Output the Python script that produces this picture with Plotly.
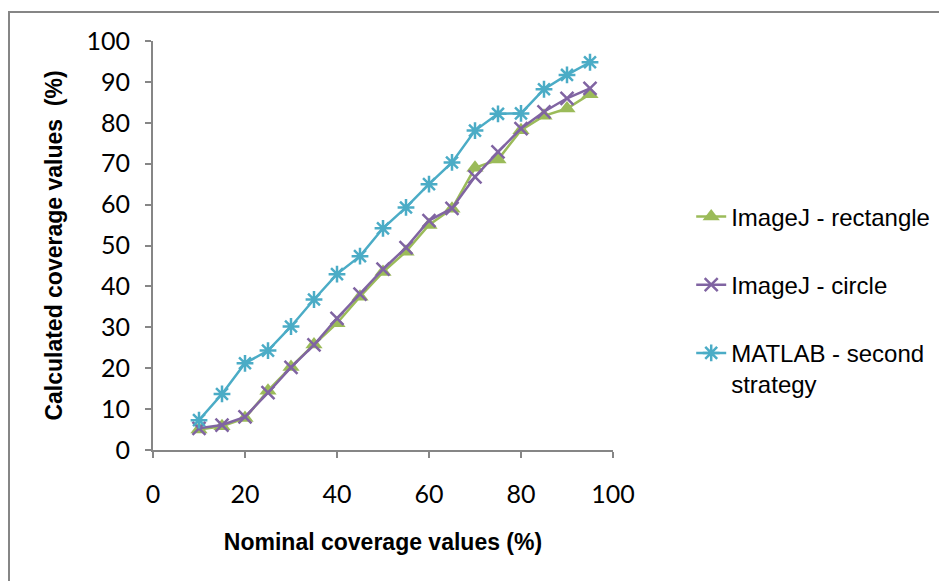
import plotly.graph_objects as go

# nominal coverage (%)
nominal = [10, 15, 20, 25, 30, 35, 40, 45, 50, 55, 60, 65, 70, 75, 80, 85, 90, 95]

# calculated coverage (%)
imagej_rectangle = [5.0, 5.8, 7.8, 14.5, 20.3, 25.8, 31.0, 37.5, 43.5, 48.5,
                    55.0, 59.0, 69.0, 71.0, 78.2, 81.7, 83.5, 87.0]
imagej_circle = [5.3, 6.1, 8.1, 14.0, 20.2, 25.7, 32.2, 38.1, 44.2, 49.5,
                 56.1, 59.1, 66.8, 72.9, 78.6, 82.7, 86.0, 88.4]
matlab_second = [7.3, 13.7, 21.2, 24.3, 30.2, 36.8, 43.0, 47.4, 54.2, 59.3,
                 65.0, 70.3, 78.1, 82.2, 82.3, 88.2, 91.7, 94.8]

series_names = ["ImageJ - rectangle", "ImageJ - circle", "MATLAB - second<br>strategy"]

AXIS_GREY = "#868686"
TEXT_FONT = "Liberation Sans, Arial, sans-serif"
TICK_FONT = "Lato, Open Sans, sans-serif"

fig = go.Figure()
fig.add_trace(go.Scatter(
    x=nominal, y=imagej_rectangle, name=series_names[0],
    mode="lines+markers", legendgroup="a",
    line={"color": "#9BBB59", "width": 2.5},
    marker={"symbol": "triangle-up", "size": 15, "color": "#9BBB59"},
))
fig.add_trace(go.Scatter(
    x=nominal, y=imagej_circle, name=series_names[1],
    mode="lines+markers", legendgroup="b",
    line={"color": "#8064A2", "width": 2.5},
    marker={"symbol": "x-thin-open", "size": 13,
            "line": {"color": "#8064A2", "width": 2.5}},
))
fig.add_trace(go.Scatter(
    x=nominal, y=matlab_second, name=series_names[2],
    mode="lines+markers", legendgroup="c",
    line={"color": "#4BACC6", "width": 2.5},
    marker={"symbol": "asterisk-open", "size": 14,
            "line": {"color": "#4BACC6", "width": 2.5}},
))

fig.update_layout(
    width=947,
    height=581,
    paper_bgcolor="white",
    plot_bgcolor="white",
    margin={"l": 145, "r": 342, "t": 33, "b": 139},
    xaxis={
        "range": [0, 100],
        "tickvals": [0, 20, 40, 60, 80, 100],
        "showgrid": False,
        "zeroline": False,
        "showline": True,
        "linecolor": AXIS_GREY,
        "linewidth": 2,
        "ticks": "outside",
        "ticklen": 6,
        "tickwidth": 2,
        "tickcolor": AXIS_GREY,
        "ticklabelstandoff": 15,
        "tickfont": {"family": TICK_FONT, "size": 25, "color": "black"},
        "title": {"text": "<b>Nominal coverage values (%)</b>", "standoff": 27,
                  "font": {"family": TEXT_FONT, "size": 23, "color": "black"}},
    },
    yaxis={
        "range": [0, 100],
        "dtick": 10,
        "showgrid": False,
        "zeroline": False,
        "showline": True,
        "linecolor": AXIS_GREY,
        "linewidth": 2,
        "ticks": "outside",
        "ticklen": 6,
        "tickwidth": 2,
        "tickcolor": AXIS_GREY,
        "ticklabelstandoff": 10,
        "tickfont": {"family": TICK_FONT, "size": 25, "color": "black"},
        "title": {"text": "<b>Calculated coverage values  (%)</b>", "standoff": 17,
                  "font": {"family": TEXT_FONT, "size": 23, "color": "black"}},
    },
    legend={
        "x": 1.17, "xanchor": "left",
        "y": 0.625, "yanchor": "top",
        "traceorder": "grouped",
        "tracegroupgap": 34,
        "valign": "top",
        "bgcolor": "rgba(0,0,0,0)",
        "font": {"family": TEXT_FONT, "size": 24, "color": "black"},
    },
    shapes=[{
        # chart area border
        "type": "rect", "xref": "paper", "yref": "paper",
        "x0": (9 - 153) / 460, "x1": (960 - 153) / 460,
        "y0": (450 - 600) / 409, "y1": (450 - 12) / 409,
        "line": {"color": AXIS_GREY, "width": 2},
        "fillcolor": "rgba(0,0,0,0)",
        "layer": "below",
    }],
)

fig.write_html("out.html")
